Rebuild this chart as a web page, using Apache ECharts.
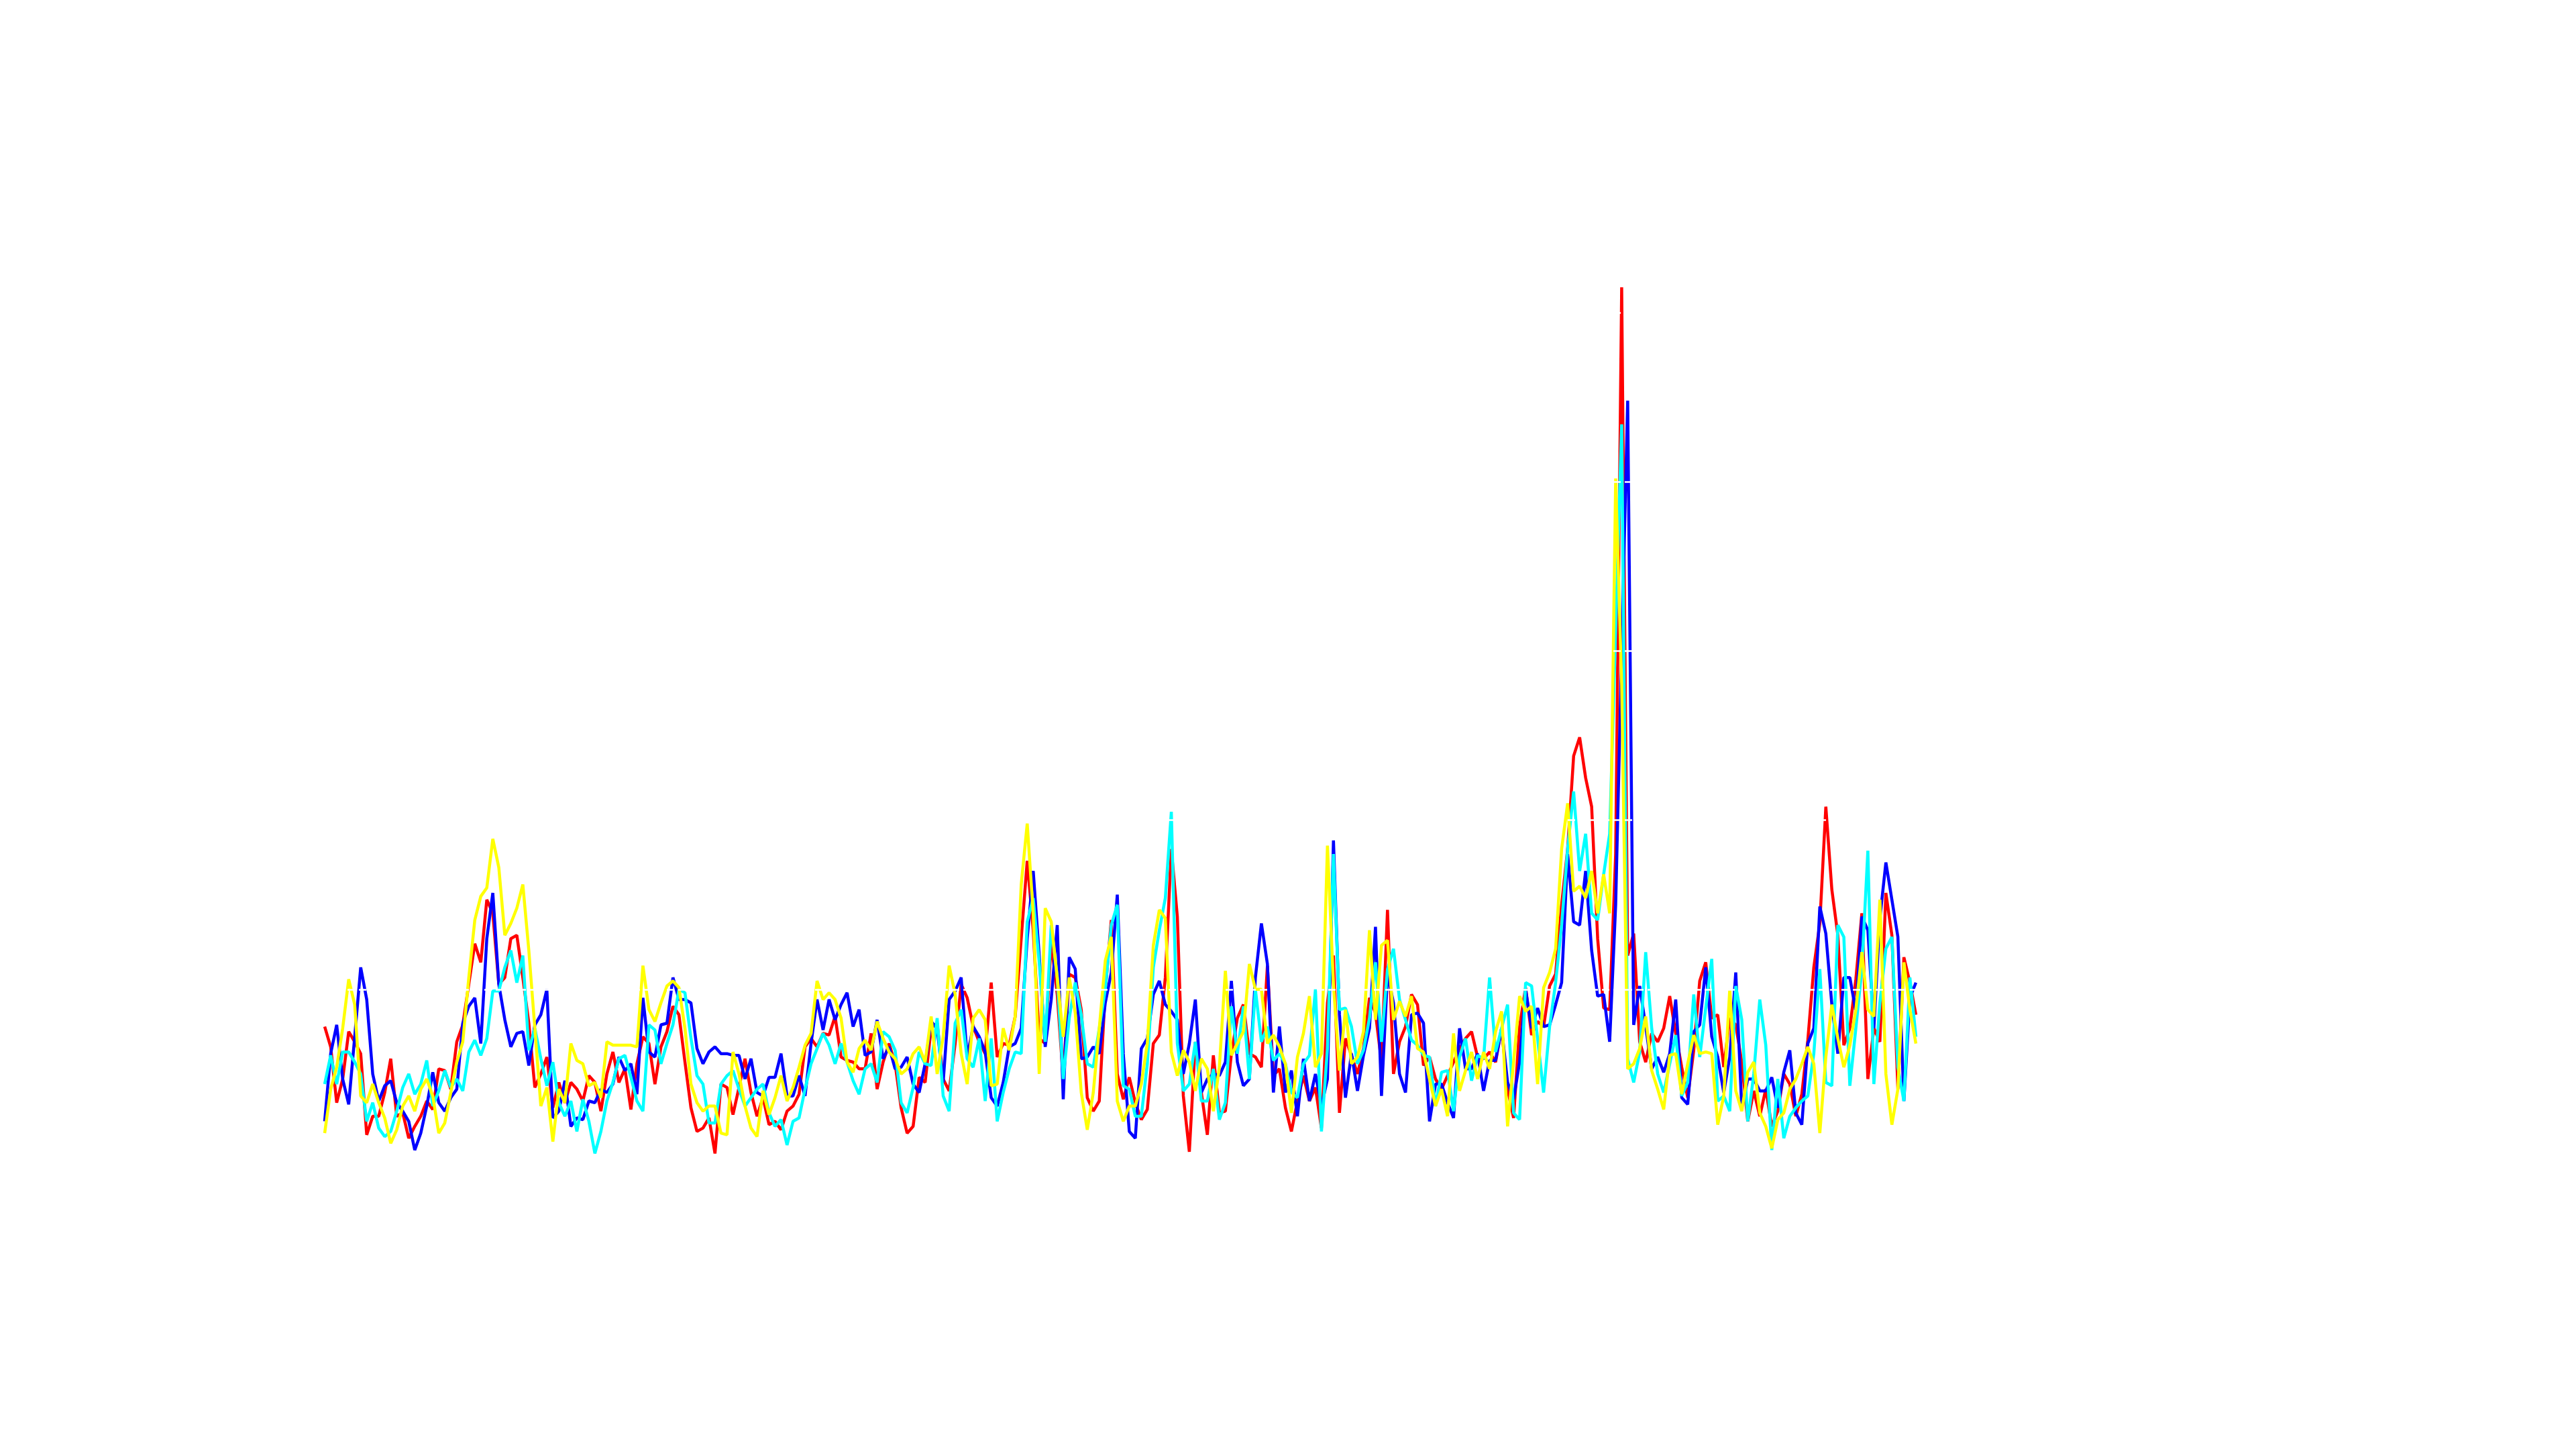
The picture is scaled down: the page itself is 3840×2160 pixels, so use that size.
<!DOCTYPE html>
<html><head><meta charset="utf-8">
<script src="https://cdn.jsdelivr.net/npm/echarts@6/dist/echarts.min.js"></script>
<style>html,body{margin:0;padding:0;background:#fff}#c{width:3840px;height:2160px}</style>
</head><body><div id="c"></div>
<script>
// values (y units: gridline every 100)
const redValues = [
78,66,33,47,75,69,62,14,25,25,39,59,25,27,12,19,25,34,29,53,52,41,69,79,103,127,116,153,145,103,107,130,
132,107,80,42,50,60,30,45,33,45,41,34,49,45,28,50,63,45,53,29,56,72,68,44,66,75,90,85,57,30,16,18,24,3,
44,42,26,42,59,39,25,36,20,22,17,28,31,38,66,71,66,74,73,84,60,58,57,53,53,74,41,57,68,56,30,15,19,
48,45,77,80,47,40,68,103,95,78,69,62,104,60,68,67,84,130,176,135,71,68,128,97,47,109,107,88,36,28,34,99,141,50,
35,48,33,23,29,68,73,107,183,143,37,4,69,39,14,61,27,28,62,83,91,62,60,54,114,49,53,30,16,34,49,34,42,
18,92,120,27,71,61,50,65,95,86,57,147,50,69,78,97,91,55,60,47,41,49,57,65,71,75,60,59,63,57,77,41,24,78,
101,73,81,78,102,109,150,183,238,249,225,208,130,89,88,180,515,120,133,69,57,74,69,77,96,74,54,36,64,105,116,83,85,
54,83,79,57,22,40,25,41,19,28,50,44,25,38,70,113,139,208,159,132,67,77,106,145,47,77,69,157,132,41,119,104,85
];
const blueValues = [
22,62,79,47,32,72,113,94,50,34,43,46,33,28,22,5,15,31,51,33,28,36,41,80,90,95,68,130,157,103,82,66,
74,75,55,79,85,100,24,28,46,19,24,23,34,33,41,39,44,60,52,56,38,95,63,60,79,80,107,94,94,92,65,56,63,66,
62,62,61,61,47,59,39,37,48,48,62,37,37,49,37,68,94,76,94,82,91,98,78,88,61,63,82,59,66,53,54,60,44,
39,56,81,77,45,94,99,107,60,78,72,63,36,31,45,66,68,77,130,170,120,66,94,138,35,119,112,59,60,66,62,92,110,156,
62,16,12,65,71,97,105,91,87,82,50,68,94,39,47,50,49,57,105,57,43,47,107,139,115,39,78,39,52,25,59,34,50,
31,47,188,85,36,62,40,61,77,137,37,109,92,50,39,85,86,80,22,44,44,33,24,77,53,53,62,40,58,58,77,45,35,57,
100,77,89,78,79,91,104,180,140,138,170,123,96,97,69,150,300,448,79,102,78,53,60,51,62,94,36,32,75,79,113,72,60,
39,60,110,30,47,47,40,40,48,30,51,64,27,20,68,77,149,133,91,62,107,107,87,143,135,77,142,175,153,131,34,95,104
];
const cyanValues = [
44,61,44,63,63,57,50,22,33,18,13,16,28,42,50,38,44,58,31,40,52,42,47,40,63,70,61,71,99,99,113,123,
104,120,64,77,59,43,57,33,25,34,16,35,22,3,16,34,45,59,61,48,34,28,79,76,56,68,79,100,98,71,49,44,21,21,
44,49,52,41,31,36,41,44,27,19,23,8,22,24,41,56,65,74,67,56,68,57,46,38,53,56,45,75,72,64,33,27,42,
63,56,55,83,37,28,80,88,59,54,71,34,71,22,39,53,63,62,140,154,116,69,138,107,47,83,104,85,56,54,77,100,138,150,
43,41,25,25,56,113,135,154,205,68,40,44,69,34,34,53,23,33,90,62,90,47,100,69,78,58,62,56,39,36,56,61,100,
16,65,180,88,89,78,56,64,83,116,69,112,124,94,82,70,67,61,60,31,51,52,28,60,71,46,61,59,107,63,77,91,27,23,
104,102,71,39,78,104,138,183,217,170,192,145,141,168,192,313,434,59,45,63,122,77,50,39,56,73,37,45,97,60,89,118,34,
37,28,102,82,22,50,94,67,5,47,12,25,30,34,37,62,112,45,43,138,131,43,77,112,182,44,92,124,131,54,34,107,72
];
const yellowValues = [
15,41,54,77,106,91,37,33,44,33,24,9,17,31,37,28,41,47,37,15,21,39,57,69,107,141,155,160,189,172,132,139,
148,162,123,77,31,42,10,41,33,68,58,56,43,45,36,69,67,67,67,67,66,114,88,81,92,102,105,101,77,44,33,28,31,31,
15,14,63,50,31,18,13,40,26,36,49,34,42,54,67,74,105,94,98,94,83,57,51,65,70,64,81,71,63,59,50,53,62,
66,57,84,50,72,114,97,62,44,83,88,82,43,44,77,64,84,162,198,145,50,148,140,107,72,107,86,39,17,39,77,117,131,34,
22,31,31,44,68,126,147,142,63,49,64,57,40,59,53,28,54,111,61,68,75,115,100,100,68,73,66,56,27,60,74,96,54,
62,185,103,52,88,56,60,75,135,82,126,129,82,93,84,96,65,63,47,31,41,25,74,40,52,63,47,63,53,75,87,19,57,96,
87,90,44,101,110,124,183,210,158,161,154,170,145,168,145,402,280,53,56,65,84,52,41,29,61,62,38,56,73,62,63,62,20,
37,100,40,28,51,57,27,19,6,23,27,41,47,56,66,56,15,60,91,71,54,67,88,122,88,84,153,50,20,41,116,88,68
];
const categories = redValues.map((_, i) => String(i + 1));

function mk(name, data, color) {
  return {
    name: name, type: 'line', data: data, showSymbol: false, symbol: 'none',
    lineStyle: { color: color, width: 4.5 }, itemStyle: { color: color },
    emphasis: { disabled: true }
  };
}
const chart = echarts.init(document.getElementById('c'), null, { renderer: 'canvas' });
chart.setOption({
  animation: false,
  backgroundColor: '#ffffff',
  grid: { left: 484, right: 984, top: 214, bottom: 433 },
  xAxis: { type: 'category', data: categories, boundaryGap: false, show: false },
  yAxis: {
    type: 'value', min: 0, max: 600, interval: 100, z: 5,
    axisLine: { show: false }, axisTick: { show: false }, axisLabel: { show: false },
    splitLine: { show: true, lineStyle: { color: '#ffffff', width: 2.5, type: [11, 6] } }
  },
  series: [
    mk('red', redValues, '#ff0000'),
    mk('blue', blueValues, '#0000ff'),
    mk('cyan', cyanValues, '#00ffff'),
    mk('yellow', yellowValues, '#ffff00')
  ]
});
</script>
</body></html>
